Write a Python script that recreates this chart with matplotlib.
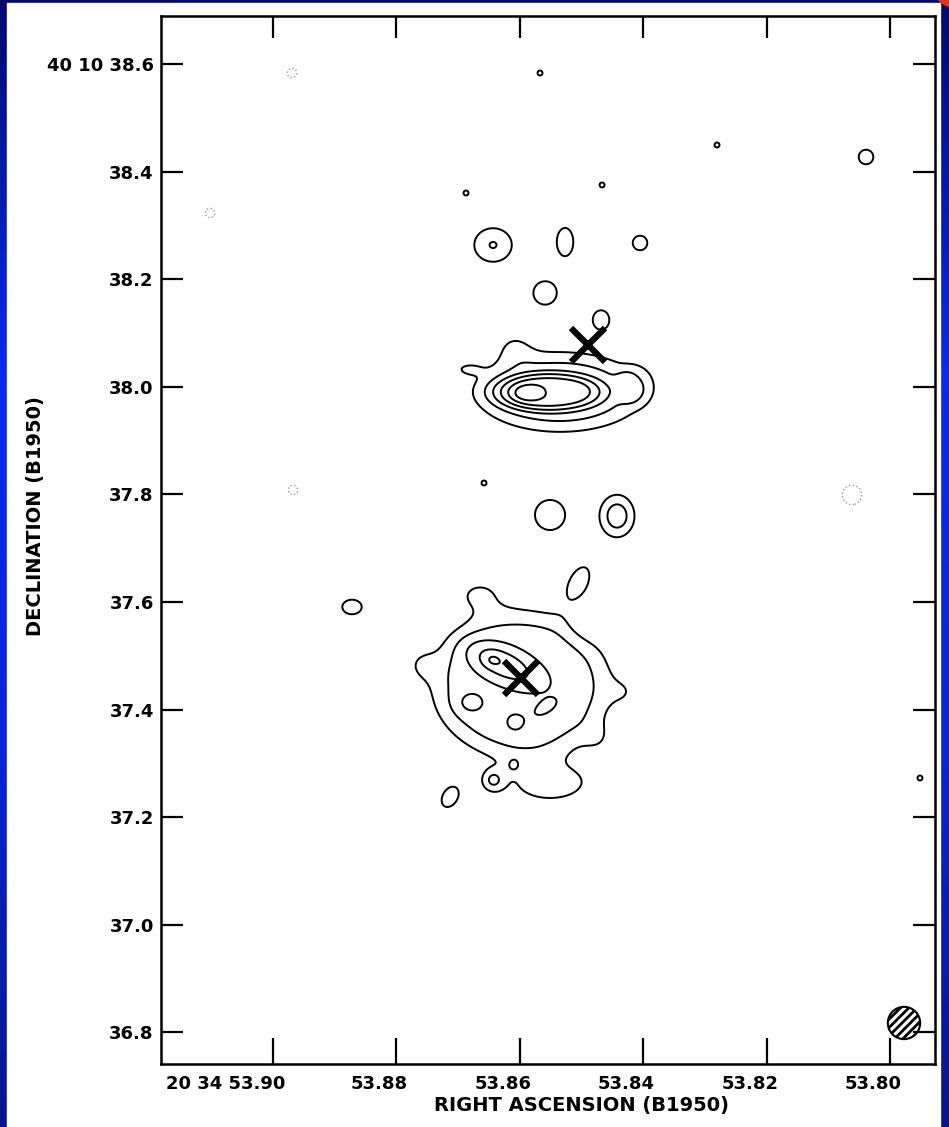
import numpy as np
import matplotlib.pyplot as plt
from matplotlib.patches import Ellipse, Rectangle
from matplotlib.colors import LinearSegmentedColormap
from matplotlib.transforms import ScaledTranslation

# brightness model: components
# RA (s of 20h34m), Dec (arcsec of +40d10m), peak (contour units),
# width along pa / across (mas), pa (deg from +x on the plot), radial profile exponent (2 = gaussian)
comp_ra = [53.85347, 53.85542, 53.85898, 53.85056, 53.84133, 53.86076, 53.86837,   # northern source
           53.85979, 53.86270, 53.86449, 53.86805, 53.86076, 53.85590, 53.86432, 53.86108,
           53.86643, 53.84295, 53.85509, 53.87582, 53.84732, 53.84943,   # southern source
           53.86432, 53.85266, 53.84052, 53.85590, 53.84683, 53.80392, 53.85509,
           53.84424, 53.85056, 53.88716, 53.87129,   # knots
           53.86870, 53.84667, 53.85671, 53.82805, 53.86578, 53.79518,   # specks
           53.89687, 53.91015, 53.89671, 53.80619]   # negatives
comp_dec = [37.99035, 37.99035, 37.98849, 37.99221, 38.00336, 38.07213, 38.03310,
            37.44575, 37.48478, 37.49222, 37.41229, 37.37512, 37.40300, 37.26917, 37.29520,
            37.61117, 37.43274, 37.26546, 37.48292, 37.34724, 37.55727,
            38.26358, 38.26915, 38.26730, 38.17436, 38.12418, 38.42714, 37.76173,
            37.75987, 37.63348, 37.59073, 37.23757,
            38.36023, 38.37510, 38.58327, 38.44945, 37.82121, 37.27289,
            38.58327, 38.32306, 37.80820, 37.79890]
comp_amp = [2.6, 3.2, 1.3, 0.3, 1.0, 1.1, 1.0,
            2.6, 2.2, 0.6, 0.9, 0.7, 0.6, 1.9, 1.15, 1.2, 0.8, 1.5, 1.0, 0.8, -0.6,
            2.05, 1.5, 1.5, 1.5, 1.5, 1.5, 1.5, 2.69, 1.5, 1.5, 1.5,
            1.05, 1.05, 1.05, 1.05, 1.05, 1.05,
            -1.3, -1.3, -1.3, -1.5]
comp_sa = [134, 86, 19, 19, 30, 26, 19,
           149, 52, 11, 19, 15, 22, 15, 11, 37, 22, 65, 22, 22, 26,
           29, 17, 15, 24, 17, 15, 31, 23, 37, 20, 22,
           15, 15, 15, 15, 15, 15,
           12, 12, 12, 20]
comp_sb = [63, 30, 11, 13, 33, 22, 9,
           124, 22, 9, 15, 15, 11, 15, 11, 26, 22, 33, 22, 22, 26,
           26, 29, 15, 24, 20, 15, 31, 28, 19, 15, 15,
           15, 15, 15, 15, 15, 15,
           12, 12, 12, 20]
comp_pa = [0, 0, 0, 0, 0, 0, 0,
           0, -25, 0, 0, 0, 30, 0, 0, 0, 0, 0, 0, 0, 0,
           0, 0, 0, 0, 0, 0, 0, 0, 65, 0, 60,
           0, 0, 0, 0, 0, 0,
           0, 0, 0, 0]
comp_n = [4, 4, 2, 2, 4, 2, 2,
          6, 2, 2, 2, 2, 2, 2, 2, 2, 2, 2, 2, 2, 2,
          2, 2, 2, 2, 2, 2, 2, 2, 2, 2, 2,
          2, 2, 2, 2, 2, 2,
          2, 2, 2, 2]
levels = [1, 2, 3, 4, 5, 6]

# catalogued positions (crosses) and restoring beam
cross_ra = [53.84894, 53.85979]
cross_dec = [38.07771, 37.45876]
beam_ra, beam_dec, beam_mas = 53.79777, 36.81751, 60

ra_ticks = [53.90, 53.88, 53.86, 53.84, 53.82, 53.80]
ra_labels = ['20 34 53.90', '53.88', '53.86', '53.84', '53.82', '53.80']
dec_ticks = [38.6, 38.4, 38.2, 38.0, 37.8, 37.6, 37.4, 37.2, 37.0, 36.8]
dec_labels = ['40 10 38.6', '38.4', '38.2', '38.0', '37.8', '37.6', '37.4', '37.2', '37.0', '36.8']

ra_lim = (53.91814, 53.79275)
dec_lim = (36.7422, 38.6892)

# ---- model image
kra = 15 * np.cos(np.radians(40.17)) * 1000  # mas per second of RA
ra = np.linspace(ra_lim[1], ra_lim[0], 820)
dec = np.linspace(dec_lim[0], dec_lim[1], 1100)
RA, DEC = np.meshgrid(ra, dec)
img = np.zeros_like(RA)
for r0, d0, a, sa, sb, pa, n in zip(comp_ra, comp_dec, comp_amp, comp_sa, comp_sb,
                                    comp_pa, comp_n):
    u = (r0 - RA) * kra
    v = (DEC - d0) * 1000
    t = np.radians(pa)
    p = u * np.cos(t) + v * np.sin(t)
    q = -u * np.sin(t) + v * np.cos(t)
    r2 = (p / sa) ** 2 + (q / sb) ** 2
    img += a * np.exp(-0.5 * r2 ** (n / 2))

W, H = 949, 1127
fig = plt.figure(figsize=(W / 100, H / 100), dpi=100)

# slide background
bg = fig.add_axes([0, 0, 1, 1])
blue = LinearSegmentedColormap.from_list('slide', ['#000a6e', '#0a2af2', '#0a24d8', '#07158c'])
bg.imshow(np.linspace(0, 1, 256)[:, None], aspect='auto', cmap=blue, extent=[0, 1, 0, 1])
bg.add_patch(Rectangle((7 / W, 0), 933 / W, 1124 / H, color='white'))
bg.add_patch(Ellipse((958 / W, 1 + 14 / H), 50 / W, 44 / H, color='#e8321e'))
bg.set_xlim(0, 1)
bg.set_ylim(0, 1)
bg.axis('off')

ax = fig.add_axes([160.7 / W, 1 - 1063.5 / H, 774.3 / W, 1047.5 / H])
ax.set_facecolor('white')
ax.contour(RA, DEC, img, levels=levels, colors='k', linewidths=1.4)
ax.contour(RA, DEC, img, levels=[-1], colors='0.6', linewidths=1.0, linestyles=':')
ax.plot(cross_ra, cross_dec, ls='none', marker='x', ms=24, mew=4.5, color='k')

plt.rcParams['hatch.linewidth'] = 2.0
ax.add_patch(Ellipse((beam_ra, beam_dec), beam_mas / kra, beam_mas / 1000,
                     facecolor='white', edgecolor='k', hatch='////', lw=1.5))

ax.set_xlim(*ra_lim)
ax.set_ylim(*dec_lim)
for s in ax.spines.values():
    s.set_linewidth(1.8)

ax.set_xticks(ra_ticks)
ax.set_xticklabels(ra_labels)
ax.set_yticks(dec_ticks)
ax.set_yticklabels(dec_labels)
ax.tick_params(direction='in', width=1.6, top=True, right=True, labelsize=13,
               colors='k', pad=8)
ax.tick_params(axis='y', pad=5, length=16)
for tk in ax.xaxis.get_major_ticks():
    tk.tick1line.set_markersize(19)
    tk.tick2line.set_markersize(16)
for lab in ax.get_xticklabels() + ax.get_yticklabels():
    lab.set_fontweight('bold')
shift = ScaledTranslation(-17 / 100, 0, fig.dpi_scale_trans)
for i, lab in enumerate(ax.get_xticklabels()):
    if i == 0:
        lab.set_ha('right')
        lab.set_transform(lab.get_transform() + ScaledTranslation(13 / 100, 0, fig.dpi_scale_trans))
    else:
        lab.set_transform(lab.get_transform() + shift)

fig.text(581 / W, 1 - 1105 / H, 'RIGHT ASCENSION (B1950)', ha='center', va='center',
         fontsize=14, fontweight='bold')
fig.text(36 / W, 1 - 516 / H, 'DECLINATION (B1950)', ha='center', va='center',
         rotation=90, fontsize=14, fontweight='bold')

fig.savefig('out.png', dpi=100)
